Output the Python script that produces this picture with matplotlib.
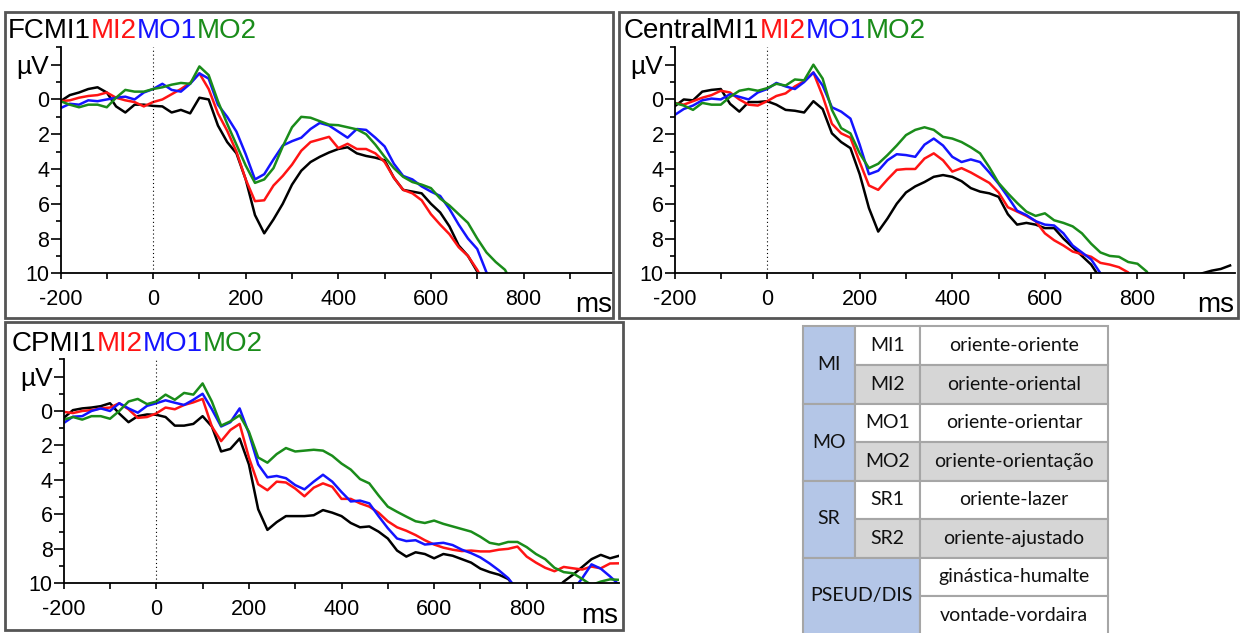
import matplotlib.pyplot as plt
from matplotlib.patches import Rectangle
import numpy as np

plt.rcParams['font.family'] = ['Liberation Sans', 'DejaVu Sans']
plt.rcParams['axes.unicode_minus'] = False

nan = np.nan
W, H = 1240, 633

# time axis, ms (one value every 20 ms)
t = np.arange(-200, 1001, 20)

# ---- FC ----
fc_mi1 = [0.1, -0.25, -0.4, -0.6, -0.7, -0.4, 0.4, 0.75, 0.3, 0.3,
          0.37, 0.4, 0.75, 0.6, 0.8, -0.1, 0.0, 1.5, 2.45, 3.1,
          4.6, 6.65, 7.7, 6.9, 6.0, 4.9, 4.1, 3.6, 3.3, 3.05,
          2.85, 2.75, 3.1, 3.25, 3.35, 3.5, 4.5, 5.2, 5.3, 5.4,
          6.0, 6.5, 7.3, 8.4, 9.0, 9.9, 10.8]
fc_mi2 = [0.1, 0.05, -0.1, -0.2, -0.25, -0.4, -0.1, 0.05, 0.15, 0.4,
          0.15, 0.0, -0.3, -0.6, -0.95, -1.5, -0.6, 0.8, 1.8, 3.0,
          4.6, 5.85, 5.8, 4.95, 4.4, 3.75, 2.95, 2.45, 2.3, 2.15,
          2.8, 2.55, 2.85, 2.85, 3.1, 3.6, 4.5, 5.2, 5.4, 5.8,
          6.6, 7.2, 7.75, 8.5, 9.0, 9.8, 10.8]
fc_mo1 = [0.5, 0.25, 0.3, 0.05, 0.1, 0.0, -0.1, -0.16, 0.0, -0.4,
          -0.6, -0.9, -0.55, -0.45, -0.9, -1.5, -1.2, 0.3, 1.0, 1.85,
          3.15, 4.6, 4.3, 3.45, 2.65, 2.4, 2.2, 1.7, 1.35, 1.5,
          1.85, 2.2, 1.7, 1.75, 2.2, 2.7, 3.7, 4.4, 4.6, 5.0,
          5.3, 5.55, 6.3, 7.2, 8.0, 8.6, 9.95, 10.8]
fc_mo2 = [0.1, 0.3, 0.45, 0.3, 0.3, 0.45, -0.1, -0.55, -0.45, -0.45,
          -0.6, -0.7, -0.85, -0.95, -0.9, -1.9, -1.4, 0.1, 1.4, 2.6,
          3.8, 4.8, 4.6, 3.95, 2.7, 1.6, 1.0, 1.05, 1.25, 1.45,
          1.48, 1.6, 1.72, 2.0, 2.6, 3.3, 3.95, 4.45, 4.75, 4.9,
          5.1, 5.7, 6.1, 6.6, 7.1, 8.0, 8.8, 9.35, 9.8, 10.8]

# ---- Central ----
c_mi1 = [0.4, 0.0, 0.05, -0.45, -0.55, -0.6, 0.25, 0.7, 0.15, 0.15,
         0.1, 0.3, 0.6, 0.65, 0.75, 0.1, 0.55, 1.95, 2.45, 2.8,
         4.3, 6.25, 7.6, 6.85, 6.0, 5.35, 5.0, 4.75, 4.45, 4.35,
         4.45, 4.7, 5.1, 5.3, 5.4, 5.6, 6.6, 7.2, 7.1, 7.2,
         7.4, 7.4, 8.0, 8.5, 9.0, 9.5, 10.3, nan, nan, nan,
         nan, nan, nan, nan, nan, nan, 10.3, 10.0, 9.85, 9.75,
         9.55]
c_mi2 = [0.2, 0.3, 0.1, -0.1, -0.25, -0.5, -0.4, 0.0, 0.3, 0.35,
         0.1, -0.2, -0.35, -0.75, -1.05, -1.55, -0.2, 1.4, 1.95, 2.2,
         3.6, 4.95, 5.2, 4.6, 4.05, 4.0, 4.0, 3.4, 3.1, 3.5,
         4.15, 3.95, 4.2, 4.5, 4.8, 5.35, 6.2, 6.45, 6.7, 7.0,
         7.7, 8.1, 8.4, 8.75, 8.9, 9.05, 9.4, 9.5, 9.65, 9.95,
         10.8]
c_mo1 = [0.9, 0.55, 0.35, 0.05, -0.05, 0.0, -0.3, -0.15, 0.0, -0.4,
         -0.6, -0.95, -0.75, -0.6, -1.0, -1.55, -0.8, 0.45, 0.7, 1.1,
         2.6, 4.3, 4.1, 3.5, 3.15, 3.2, 3.3, 2.6, 2.25, 2.65,
         3.3, 3.6, 3.45, 3.6, 4.2, 4.85, 5.6, 6.4, 6.65, 7.0,
         7.2, 7.25, 7.7, 8.4, 8.8, 9.2, 10.0, 10.8]
c_mo2 = [0.2, 0.35, 0.6, 0.2, 0.3, 0.3, -0.15, -0.5, -0.6, -0.5,
         -0.65, -0.9, -0.8, -1.15, -1.1, -2.0, -1.2, 0.6, 1.65, 1.95,
         3.1, 3.95, 3.7, 3.2, 2.65, 2.05, 1.75, 1.6, 1.75, 2.15,
         2.25, 2.45, 2.75, 3.1, 3.9, 4.8, 5.4, 5.95, 6.45, 6.7,
         6.55, 6.95, 7.1, 7.3, 7.7, 8.3, 8.8, 9.0, 9.05, 9.35,
         9.45, 9.9, 10.8]

# ---- CP ----
cp_mi1 = [0.4, -0.05, -0.15, -0.2, -0.28, -0.45, 0.15, 0.65, 0.3, 0.2,
          0.22, 0.35, 0.85, 0.85, 0.75, 0.3, 0.9, 2.35, 2.2, 1.6,
          3.1, 5.7, 6.9, 6.45, 6.1, 6.1, 6.1, 6.05, 5.75, 5.9,
          6.1, 6.5, 6.75, 6.7, 7.0, 7.4, 8.1, 8.45, 8.2, 8.3,
          8.55, 8.3, 8.4, 8.6, 8.8, 9.15, 9.35, 9.5, 9.75, 10.4,
          nan, nan, nan, 10.4, 9.9, 9.5, 9.05, 8.6, 8.35, 8.55,
          8.4]
cp_mi2 = [0.05, 0.12, 0.0, -0.05, -0.15, -0.2, -0.45, -0.1, 0.4, 0.35,
          0.14, -0.2, -0.1, -0.35, -0.5, -0.7, 0.9, 1.75, 1.1, 0.75,
          2.7, 4.25, 4.6, 4.1, 4.15, 4.5, 4.95, 4.45, 4.2, 4.4,
          5.1, 5.1, 5.36, 5.55, 5.9, 6.4, 6.75, 6.95, 7.2, 7.5,
          7.75, 7.93, 8.05, 8.13, 8.1, 8.15, 8.15, 8.05, 8.0, 7.87,
          8.45, 8.8, 9.1, 9.3, 9.05, 9.13, 9.2, 9.03, 9.13, 8.85,
          8.84]
cp_mo1 = [0.7, 0.33, 0.3, 0.0, -0.15, 0.0, -0.45, -0.15, 0.1, -0.3,
          -0.45, -0.62, -0.48, -0.35, -0.65, -1.0, -0.1, 0.9, 0.65, -0.15,
          1.3, 3.1, 3.85, 3.77, 3.9, 4.3, 4.55, 4.1, 3.7, 4.1,
          4.7, 5.25, 5.2, 5.36, 6.1, 6.8, 7.4, 7.55, 7.5, 7.75,
          7.7, 7.65, 7.78, 8.05, 8.25, 8.5, 8.85, 9.25, 9.7, 10.4,
          nan, nan, nan, nan, nan, 10.4, 9.7, 8.9, 9.15, 9.6,
          10.1]
cp_mo2 = [0.5, 0.35, 0.5, 0.3, 0.3, 0.45, 0.0, -0.55, -0.7, -0.4,
          -0.55, -0.95, -0.65, -1.05, -0.95, -1.6, -0.55, 0.85, 0.6, 0.25,
          1.2, 2.7, 3.0, 2.5, 2.15, 2.35, 2.3, 2.25, 2.3, 2.6,
          3.05, 3.4, 3.95, 4.2, 4.9, 5.55, 5.85, 6.13, 6.4, 6.5,
          6.36, 6.55, 6.7, 6.85, 7.0, 7.3, 7.65, 7.75, 7.6, 7.6,
          7.9, 8.3, 8.6, 9.1, 9.35, 9.42, 9.75, 10.1, 9.9, 9.77,
          9.8]

conditions = ['MI1', 'MI2', 'MO1', 'MO2']
colors = ['#000000', '#ff1414', '#1414ff', '#1a8c1a']

# table contents
groups = ['MI', 'MO', 'SR']
codes = ['MI1', 'MI2', 'MO1', 'MO2', 'SR1', 'SR2']
pairs = ['oriente-oriente', 'oriente-oriental', 'oriente-orientar',
         'oriente-orientação', 'oriente-lazer', 'oriente-ajustado']
pseudo_label = 'PSEUD/DIS'
pseudo_pairs = ['ginástica-humalte', 'vontade-vordaira']


def full(vals):
    vals = list(vals) + [nan] * (len(t) - len(vals))
    return np.array(vals, dtype=float)


def px_rect(x0, y0, x1, y1):
    return [x0 / W, 1 - y1 / H, (x1 - x0) / W, (y1 - y0) / H]


fig = plt.figure(figsize=(12.4, 6.33), dpi=100)
fig.patch.set_facecolor('white')

# panel frames
for x0, y0, x1, y1 in [(5, 12, 613, 318), (619, 12, 1238, 318), (5, 322, 623, 630)]:
    fig.add_artist(Rectangle((x0 / W, 1 - y1 / H), (x1 - x0) / W, (y1 - y0) / H,
                             transform=fig.transFigure, fill=False,
                             ec='#555555', lw=2))


def panel(rect, xmax, series):
    ax = fig.add_axes(rect)
    ax.set_facecolor('none')
    for vals, c in zip(series, colors):
        ax.plot(t, full(vals), color=c, lw=1.8, solid_joinstyle='round')
    ax.axvline(0, color='black', lw=0.8, ls=(0, (1, 2.5)))
    ax.set_xlim(-200, xmax)
    ax.set_ylim(10, -3)
    ax.spines['top'].set_visible(False)
    ax.spines['right'].set_visible(False)
    ax.spines['left'].set_linewidth(1.3)
    ax.spines['bottom'].set_linewidth(1.3)
    ax.set_xticks(range(-200, 801, 200))
    ax.set_xticks(range(-100, 901, 200), minor=True)
    ax.set_yticks([-2, 0, 2, 4, 6, 8, 10])
    ax.set_yticklabels(['µV', '0', '2', '4', '6', '8', '10'])
    ax.set_yticks([-3, -1, 1, 3, 5, 7, 9], minor=True)
    ax.tick_params(axis='x', which='both', length=4, width=1.2, labelsize=15.5, pad=7)
    ax.tick_params(axis='y', which='major', length=7.5, width=1.2, labelsize=15.5, pad=0.5)
    ax.tick_params(axis='y', which='minor', length=3.8, width=1.2)
    ax.get_yticklabels()[0].set_fontsize(19)
    return ax


ax1 = panel(px_rect(60.5, 47.3, 611.5, 273.3), 990, [fc_mi1, fc_mi2, fc_mo1, fc_mo2])
ax2 = panel(px_rect(674.5, 47.3, 1234.7, 273.3), 1010, [c_mi1, c_mi2, c_mo1, c_mo2])
ax3 = panel(px_rect(63.7, 359.3, 619.3, 583.3), 1000, [cp_mi1, cp_mi2, cp_mo1, cp_mo2])

# overlay in pixel coordinates for titles, units and the table
ov = fig.add_axes([0, 0, 1, 1])
ov.set_xlim(0, W)
ov.set_ylim(H, 0)
ov.axis('off')

for name, x, y in [('FC', 8, 31), ('Central', 624, 31), ('CP', 12, 344)]:
    prev = ov.text(x, y, name + conditions[0], fontsize=20, color=colors[0],
                   va='center', ha='left')
    for cond, c in zip(conditions[1:], colors[1:]):
        prev = ov.annotate(cond, xy=(1, 0), xycoords=prev, fontsize=20,
                           color=c, va='bottom', ha='left')

for x, y in [(594, 305), (1216, 305), (600, 616)]:
    ov.text(x, y, 'ms', fontsize=20, ha='center', va='center')

# table
rows_y = [326, 364.5, 403.5, 442, 480.5, 519, 557.5, 596, 634.5]
cols_x = [803, 855, 920, 1108]
blue = '#b4c6e7'
grey = '#d6d6d6'
edge = '#a6a6a6'
tfont = dict(family=['Lato', 'DejaVu Sans'], fontsize=14, color='#111111',
             ha='center', va='center')


def cell(x0, x1, y0, y1, fc, label):
    ov.add_patch(Rectangle((x0, y0), x1 - x0, y1 - y0, fc=fc, ec=edge, lw=1.5))
    ov.text((x0 + x1) / 2, (y0 + y1) / 2, label, **tfont)


for k, g in enumerate(groups):
    cell(cols_x[0], cols_x[1], rows_y[2 * k], rows_y[2 * k + 2], blue, g)
for i, (code, pair) in enumerate(zip(codes, pairs)):
    fc = 'white' if i % 2 == 0 else grey
    cell(cols_x[1], cols_x[2], rows_y[i], rows_y[i + 1], fc, code)
    cell(cols_x[2], cols_x[3], rows_y[i], rows_y[i + 1], fc, pair)
cell(cols_x[0], cols_x[2], rows_y[6], rows_y[8], blue, pseudo_label)
for j, pair in enumerate(pseudo_pairs):
    cell(cols_x[2], cols_x[3], rows_y[6 + j], rows_y[7 + j], 'white', pair)

fig.savefig('out.png', dpi=100)
